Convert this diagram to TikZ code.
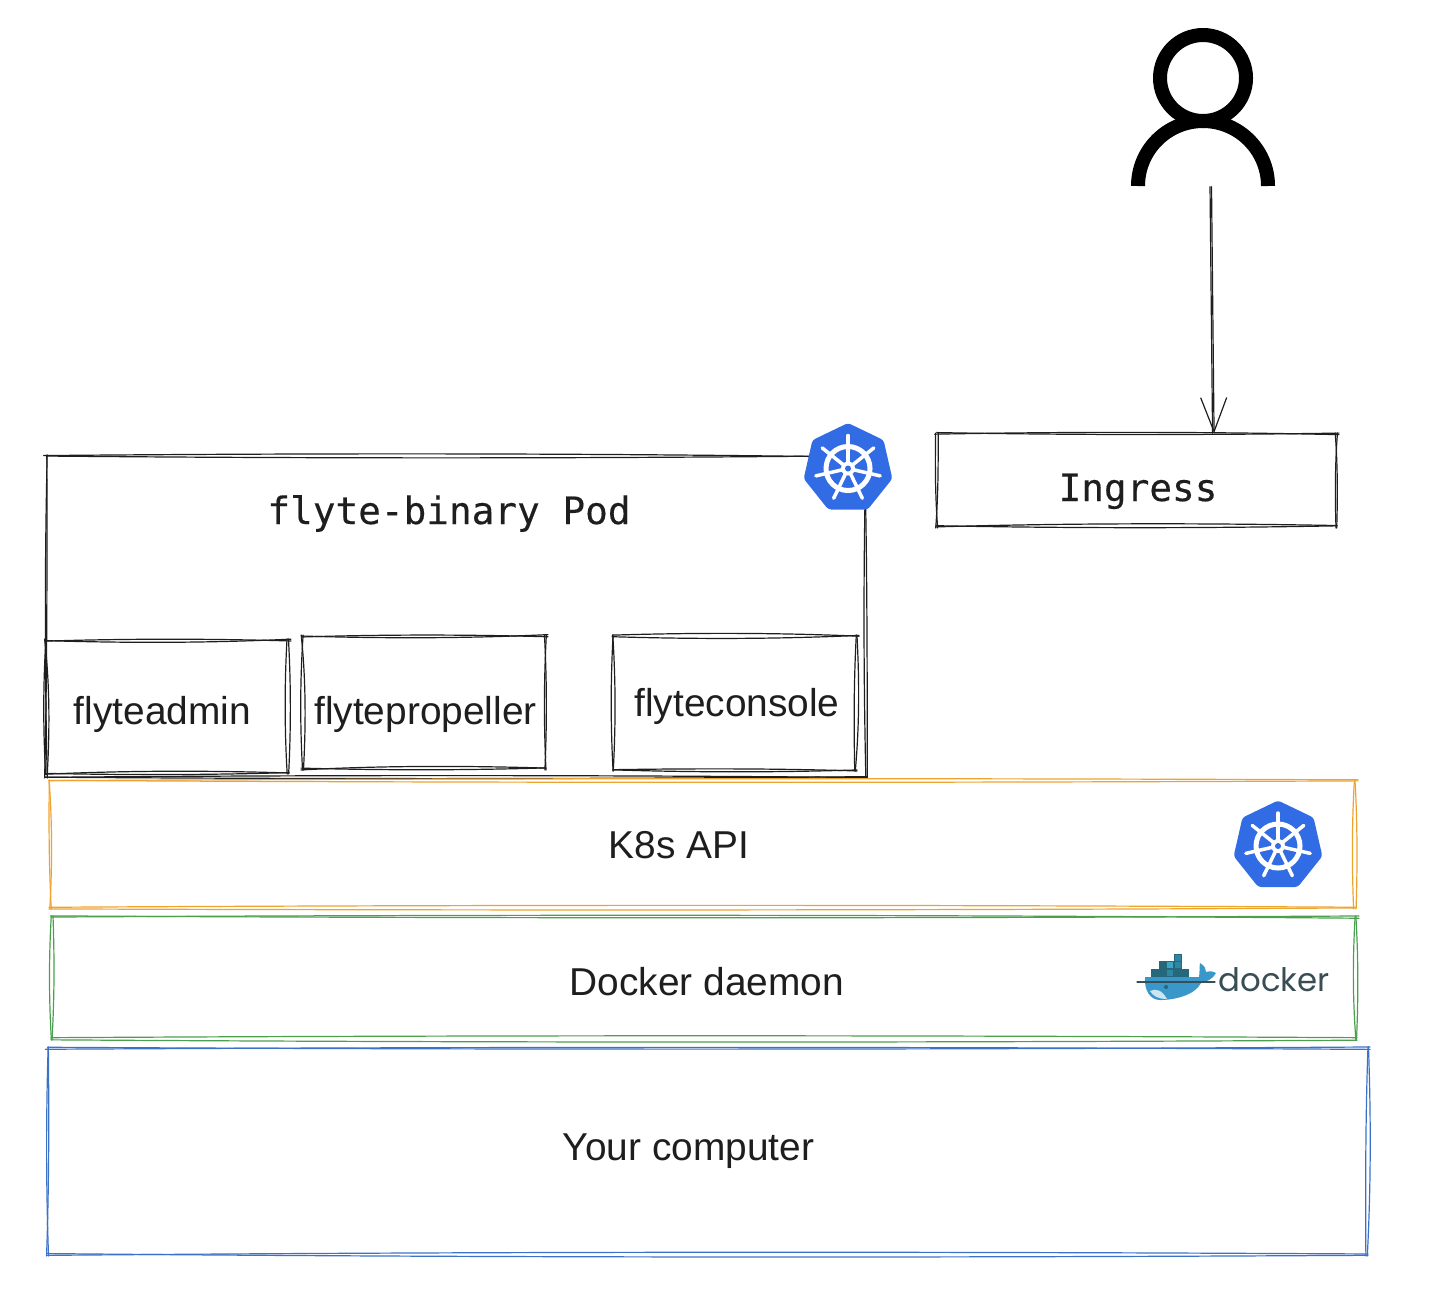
\documentclass[tikz,border=0pt]{standalone}
\usepackage{fontspec}
\setmainfont{Liberation Sans}
\setmonofont[FakeBold=0.35]{DejaVu Sans Mono}
\newfontfamily\dockerfont{Poppins}
\usetikzlibrary{arrows.meta}
\definecolor{inkblack}{HTML}{1E1E1E}
\definecolor{k8sblue}{HTML}{326CE5}
\definecolor{k8sorange}{HTML}{EFA32F}
\definecolor{dockergreen}{HTML}{4C9F4C}
\definecolor{hostblue}{HTML}{3B72C8}
\definecolor{whaleblue}{HTML}{3A97C9}
\definecolor{cratedark}{HTML}{24687A}
\definecolor{cratemid}{HTML}{2F86A0}
\definecolor{cratelight}{HTML}{3DA5C8}
\definecolor{dockertext}{HTML}{394D54}
\tikzset{
  roughline/.style={line width=0.012cm,line cap=round,line join=round},
  boxtext/.style={anchor=base,text=inkblack,font=\fontsize{11.05}{13}\selectfont,inner sep=0pt},
  monotext/.style={anchor=base,text=inkblack,font=\ttfamily\fontsize{10.72}{13}\selectfont,inner sep=0pt},
  k8slogo/.pic={
    \fill [k8sblue,rounded corners=0.03cm] (-90:45.5) -- (-38.6:45.5) -- (12.9:45.5) -- (64.3:45.5)
      -- (115.7:45.5) -- (167.1:45.5) -- (218.6:45.5) -- cycle;
    \draw [white,line width=0.05cm] (0,0) circle (22);
    \foreach \a in {-90,-38.6,12.9,64.3,115.7,167.1,218.6} {
      \draw [white,line width=0.035cm,line cap=round] (\a:5) -- (\a:33);
    }
    \fill [white] (0,0) circle (7);
    \fill [k8sblue] (0,0) circle (3);
  }
}
% one box, drawn twice by hand: name, colour, left, top, right, bottom
\newcommand{\roughbox}[6]{
  \node [inner sep=0pt,minimum width={(#5-#3)*0.01cm},minimum height={(#6-#4)*0.01cm}] (#1)
    at ({(#3+#5)/2},{(#4+#6)/2}) {};
  \foreach \pass/\sgn in {1/1,2/-1} {
    \pgfmathsetmacro{\lx}{#3+1.5*rand}
    \pgfmathsetmacro{\rx}{#5+1.5*rand}
    \pgfmathsetmacro{\ty}{#4+1.5*rand}
    \pgfmathsetmacro{\by}{#6+1.5*rand}
    \pgfmathsetmacro{\tyb}{#4+1.5*rand}
    \pgfmathsetmacro{\byb}{#6+1.5*rand}
    \pgfmathsetmacro{\lxb}{#3+1.5*rand}
    \pgfmathsetmacro{\rxb}{#5+1.5*rand}
    \draw [roughline,#2] (\lx-1,\ty) .. controls ({\lx+(#5-#3)/3},{\ty+\sgn*2.5}) and ({\lx+2*(#5-#3)/3},{\ty+\sgn*2.5}) .. (#5+3,\tyb);
    \draw [roughline,#2] (#5+1,\by) .. controls ({\rx-(#5-#3)/3},{\by-\sgn*2.5}) and ({\rx-2*(#5-#3)/3},{\by-\sgn*2.5}) .. (#3-1,\byb);
    \draw [roughline,#2] (\rx,#4-1) .. controls ({\rx+\sgn*2.5},{#4+(#6-#4)/3}) and ({\rx+\sgn*2.5},{#4+2*(#6-#4)/3}) .. (\rxb,#6+1);
    \draw [roughline,#2] (\lx,#6+1) .. controls ({\lx-\sgn*2.5},{#6-(#6-#4)/3}) and ({\lx-\sgn*2.5},{#6-2*(#6-#4)/3}) .. (\lxb,#4-1);
  }
}
\begin{document}
\begin{tikzpicture}[x=0.01cm,y=-0.01cm]
    \useasboundingbox (0,0) rectangle (1434,1290);
    \pgfmathsetseed{4711}

    % the person
    \node [inner sep=0pt,minimum width=1.44cm,minimum height=1.58cm] (user) at (1203,107) {};
    \draw [line width=0.14cm] (1203,78) circle (43);
    \draw [line width=0.14cm] (1138,186) arc (180:360:65);

    % boxes
    \roughbox{pod}{inkblack}{46}{456}{866}{777}
    \roughbox{ingress}{inkblack}{937}{434}{1336}{527}
    \roughbox{admin}{inkblack}{46}{640}{288}{773}
    \roughbox{propeller}{inkblack}{302}{636}{545}{769}
    \roughbox{console}{inkblack}{614}{636}{856}{770}
    \roughbox{k8sapi}{k8sorange}{50}{781}{1355}{908}
    \roughbox{dockerd}{dockergreen}{52}{917}{1356}{1039}
    \roughbox{computer}{hostblue}{48}{1048}{1367}{1255}

    % labels
    \draw (449,524) node [monotext] (podlabel) {flyte-binary Pod};
    \draw (1138,501) node [monotext] (ingresslabel) {Ingress};
    \draw (162.5,724) node [boxtext] (adminlabel) {flyteadmin};
    \draw (425.5,724) node [boxtext] (propellerlabel) {flytepropeller};
    \draw (737,716) node [boxtext] (consolelabel) {flyteconsole};
    \draw (679,858) node [boxtext] (k8slabel) {K8s API};
    \draw (707,995) node [boxtext] (dockerlabel) {Docker daemon};
    \draw (688.5,1160) node [boxtext] (computerlabel) {Your computer};

    % user to ingress
    \draw [roughline,inkblack] ([xshift=0.07cm]user.south) -- ([xshift=0.76cm]ingress.north);
    \draw [roughline,inkblack,-{Straight Barb[length=0.34cm,width=0.26cm]}]
      ([xshift=0.085cm]user.south) -- ([xshift=0.775cm]ingress.north);

    % logos
    \pic at (848,468.5) {k8slogo};
    \pic at (1278,846) {k8slogo};

    % docker whale
    \fill [whaleblue] (1145,977) -- (1199,977) .. controls (1200,972) and (1199,968) .. (1200,963)
      .. controls (1205,966) and (1206,969) .. (1206,972) .. controls (1209,971) and (1213,971) .. (1216,973)
      .. controls (1213,979) and (1206,982) .. (1201,983) .. controls (1195,995) and (1175,1000) .. (1160,1000)
      .. controls (1150,1000) and (1144,990) .. (1145,977) -- cycle;
    \fill [white!75!whaleblue] (1150,991) .. controls (1156,988) and (1162,990) .. (1167,999) .. controls (1158,999) and (1153,996) .. (1150,991) -- cycle;
    \fill [cratedark] (1166,987) circle (2);
    \draw [roughline,dockertext] (1137,982) -- (1215,982);
    \foreach \cx/\cy/\cc in {1151/969/cratedark,1159/969/cratedark,1166/969/cratemid,1174/969/cratedark,1181/969/cratedark,
                             1159/961/cratedark,1166/961/cratelight,1174/961/cratemid,1174/954/cratemid} {
      \fill [\cc,draw=cratedark,line width=0.008cm] (\cx,\cy) rectangle +(7.3,7.6);
    }
    \draw (1274,991) node [anchor=base,inner sep=0pt,text=dockertext,font=\dockerfont\fontsize{9.2}{11}\selectfont] (dockerword) {docker};
\end{tikzpicture}
\end{document}
